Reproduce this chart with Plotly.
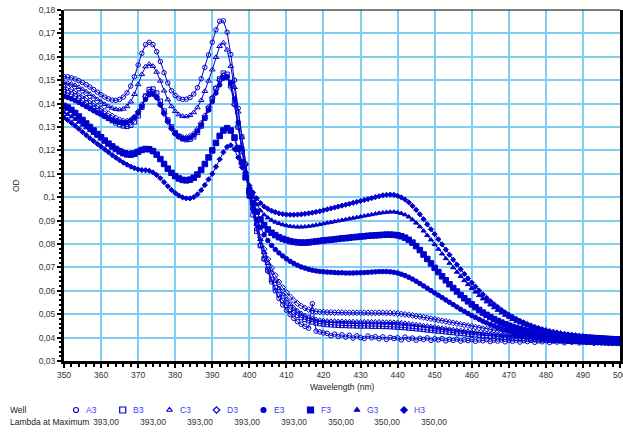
import plotly.graph_objects as go

WAVELENGTH = list(range(350, 501))

A3 = [.1515,.1514,.1510,.1505,.1498,.1490,.1481,.1471,.1460,.1449,
      .1438,.1428,.1420,.1415,.1414,.1418,.1428,.1446,.1475,.1515,
      .1565,.1615,.1652,.1662,.1652,.1622,.1580,.1532,.1488,.1455,
      .1435,.1423,.1418,.1419,.1426,.1441,.1468,.1506,.1555,.1608,
      .1662,.1715,.1752,.1754,.1705,.1610,.1500,.1380,.1260,.1140,
      .1035,
      .0945,.0865,.0795,.0735,.0683,.0638,.0600,.0567,.0540,.0517,
      .0498,.0482,.0468,.0457,.0448,.0440,.0545,.0428,.0424,.0420,
      .0418,.0408,.0415,.0405,.0412,.0402,.0410,.0398,.0408,.0400,
      .0396,.0407,.0399,.0404,.0395,.0403,.0392,.0401,.0396,.0399,
      .0390,.0402,.0393,.0398,.0389,.0397,.0392,.0399,.0388,.0395,
      .0390,.0396,.0386,.0393,.0388,.0394,.0385,.0391,.0387,.0392,
      .0384,.0390,.0386,.0391,.0383,.0389,.0385,.0390,.0382,.0388,
      .0384,.0389,.0381,.0387,.0383,.0388,.0380,.0386,.0382,.0387,
      .0379,.0385,.0381,.0386,.0378,.0384,.0380,.0385,.0377,.0383,
      .0379,.0384,.0376,.0382,.0378,.0383,.0375,.0381,.0377,.0380]

B3 = [.1450,.1446,.1440,.1432,.1423,.1413,.1402,.1391,.1380,.1369,
      .1358,.1347,.1337,.1327,.1318,.1310,.1305,.1303,.1308,.1322,
      .1348,.1385,.1432,.1460,.1462,.1445,.1410,.1368,.1330,.1300,
      .1276,.1260,.1250,.1246,.1248,.1258,.1277,.1304,.1338,.1377,
      .1420,.1465,.1505,.1530,.1525,.1480,.1400,.1300,.1195,.1095,
      .1005,
      .0925,.0855,.0793,.0738,.0690,.0649,.0614,.0584,.0559,.0538,
      .0521,.0507,.0495,.0486,.0478,.0472,.0467,.0463,.0460,.0458,
      .0456,.0455,.0454,.0453,.0452,.0452,.0451,.0451,.0450,.0450,
      .0450,.0450,.0449,.0449,.0449,.0448,.0448,.0447,.0446,.0445,
      .0444,.0443,.0441,.0440,.0438,.0437,.0435,.0433,.0432,.0430,
      .0428,.0427,.0425,.0423,.0422,.0420,.0418,.0417,.0415,.0414,
      .0412,.0411,.0409,.0408,.0406,.0405,.0404,.0402,.0401,.0400,
      .0399,.0398,.0397,.0396,.0395,.0394,.0393,.0392,.0391,.0390,
      .0389,.0388,.0388,.0387,.0386,.0386,.0385,.0384,.0384,.0383,
      .0383,.0382,.0382,.0381,.0381,.0380,.0380,.0380,.0379,.0379]

C3 = [.1490,.1488,.1484,.1478,.1470,.1461,.1451,.1440,.1429,.1418,
      .1407,.1397,.1388,.1381,.1376,.1374,.1377,.1388,.1408,.1440,
      .1482,.1525,.1558,.1568,.1560,.1535,.1497,.1455,.1417,.1388,
      .1367,.1353,.1346,.1345,.1350,.1362,.1383,.1414,.1453,.1497,
      .1545,.1598,.1645,.1660,.1630,.1560,.1470,.1365,.1255,.1145,
      .1045,
      .0960,.0885,.0820,.0765,.0718,.0677,.0641,.0610,.0584,.0562,
      .0543,.0527,.0514,.0503,.0494,.0487,.0481,.0477,.0474,.0472,
      .0471,.0470,.0470,.0469,.0469,.0468,.0468,.0468,.0467,.0467,
      .0467,.0467,.0467,.0467,.0467,.0466,.0466,.0466,.0465,.0464,
      .0463,.0461,.0459,.0457,.0455,.0453,.0451,.0449,.0447,.0445,
      .0442,.0440,.0438,.0436,.0434,.0432,.0430,.0428,.0426,.0424,
      .0422,.0420,.0418,.0416,.0415,.0413,.0411,.0410,.0408,.0407,
      .0405,.0404,.0403,.0401,.0400,.0399,.0398,.0397,.0396,.0395,
      .0394,.0393,.0392,.0391,.0390,.0390,.0389,.0388,.0387,.0387,
      .0386,.0385,.0385,.0384,.0384,.0383,.0383,.0382,.0382,.0381]

D3 = [.1472,.1468,.1461,.1453,.1444,.1434,.1423,.1412,.1400,.1389,
      .1378,.1367,.1357,.1347,.1338,.1331,.1326,.1325,.1330,.1343,
      .1365,.1395,.1430,.1450,.1448,.1428,.1395,.1357,.1322,.1293,
      .1272,.1260,.1255,.1255,.1260,.1271,.1290,.1316,.1348,.1385,
      .1425,.1465,.1500,.1520,.1512,.1470,.1395,.1300,.1200,.1105,
      .1020,
      .0950,.0885,.0828,.0778,.0735,.0698,.0666,.0638,.0614,.0593,
      .0575,.0559,.0546,.0535,.0526,.0520,.0515,.0512,.0510,.0509,
      .0508,.0508,.0507,.0507,.0507,.0506,.0506,.0506,.0506,.0506,
      .0506,.0506,.0506,.0506,.0506,.0506,.0505,.0505,.0504,.0503,
      .0501,.0499,.0497,.0495,.0492,.0490,.0487,.0484,.0481,.0478,
      .0475,.0472,.0469,.0466,.0463,.0460,.0457,.0454,.0451,.0448,
      .0445,.0442,.0439,.0436,.0433,.0431,.0428,.0426,.0424,.0422,
      .0420,.0418,.0416,.0414,.0412,.0411,.0409,.0408,.0406,.0405,
      .0404,.0403,.0401,.0400,.0399,.0398,.0397,.0396,.0395,.0394,
      .0393,.0393,.0392,.0391,.0391,.0390,.0389,.0389,.0388,.0388]

E3 = [.1430,.1426,.1420,.1413,.1405,.1396,.1387,.1378,.1369,.1361,
      .1353,.1345,.1337,.1330,.1324,.1320,.1318,.1320,.1327,.1340,
      .1360,.1388,.1418,.1438,.1440,.1425,.1395,.1360,.1325,.1295,
      .1272,.1258,.1251,.1250,.1254,.1265,.1283,.1308,.1338,.1372,
      .1408,.1445,.1480,.1508,.1515,.1490,.1420,.1320,.1210,.1100,
      .1005,
      .0950,.0905,.0870,.0840,.0815,.0794,.0777,.0762,.0749,.0737,
      .0726,.0717,.0709,.0702,.0697,.0692,.0688,.0685,.0683,.0681,
      .0680,.0679,.0678,.0677,.0677,.0676,.0676,.0676,.0677,.0677,
      .0678,.0679,.0680,.0681,.0682,.0682,.0682,.0681,.0679,.0676,
      .0671,.0665,.0658,.0650,.0641,.0631,.0621,.0611,.0601,.0591,
      .0581,.0571,.0561,.0551,.0541,.0531,.0521,.0512,.0503,.0494,
      .0486,.0478,.0470,.0463,.0456,.0450,.0444,.0438,.0433,.0428,
      .0423,.0419,.0415,.0411,.0408,.0405,.0402,.0399,.0397,.0395,
      .0393,.0391,.0389,.0388,.0386,.0385,.0384,.0383,.0382,.0381,
      .0380,.0379,.0378,.0378,.0377,.0376,.0376,.0375,.0375,.0374]

F3 = [.1390,.1383,.1373,.1360,.1345,.1330,.1315,.1300,.1285,.1270,
      .1256,.1242,.1229,.1217,.1206,.1196,.1188,.1183,.1182,.1186,
      .1194,.1202,.1206,.1205,.1197,.1182,.1163,.1142,.1122,.1104,
      .1090,.1080,.1074,.1072,.1075,.1083,.1097,.1117,.1142,.1170,
      .1200,.1232,.1262,.1285,.1295,.1285,.1255,.1210,.1150,.1085,
      .1025,
      .0975,.0938,.0905,.0880,.0862,.0848,.0838,.0829,.0822,.0817,
      .0812,.0809,.0807,.0806,.0806,.0807,.0809,.0811,.0813,.0815,
      .0817,.0818,.0820,.0822,.0824,.0825,.0827,.0829,.0830,.0832,
      .0833,.0835,.0836,.0837,.0838,.0839,.0840,.0840,.0839,.0837,
      .0833,.0827,.0818,.0806,.0791,.0774,.0755,.0736,.0717,.0698,
      .0680,.0662,.0645,.0628,.0612,.0597,.0582,.0568,.0555,.0542,
      .0530,.0518,.0507,.0497,.0488,.0479,.0471,.0464,.0457,.0451,
      .0446,.0441,.0436,.0432,.0428,.0425,.0422,.0419,.0417,.0415,
      .0413,.0411,.0410,.0408,.0407,.0406,.0404,.0403,.0402,.0401,
      .0400,.0399,.0398,.0397,.0396,.0395,.0394,.0393,.0393,.0392]

G3 = [.1362,.1354,.1344,.1333,.1321,.1309,.1297,.1285,.1273,.1261,
      .1250,.1239,.1229,.1219,.1210,.1202,.1196,.1192,.1191,.1193,
      .1198,.1203,.1206,.1204,.1196,.1181,.1162,.1141,.1121,.1103,
      .1089,.1079,.1073,.1071,.1074,.1082,.1096,.1116,.1141,.1169,
      .1199,.1230,.1260,.1282,.1290,.1280,.1248,.1200,.1145,.1090,
      .1040,
      .1000,.0968,.0943,.0925,.0912,.0902,.0894,.0888,.0883,.0879,
      .0876,.0874,.0873,.0873,.0874,.0876,.0878,.0881,.0884,.0887,
      .0890,.0893,.0896,.0899,.0902,.0905,.0908,.0911,.0914,.0917,
      .0920,.0923,.0926,.0929,.0932,.0934,.0936,.0937,.0937,.0935,
      .0931,.0925,.0916,.0904,.0890,.0874,.0856,.0837,.0818,.0798,
      .0778,.0758,.0738,.0718,.0699,.0680,.0662,.0644,.0627,.0611,
      .0595,.0580,.0566,.0553,.0540,.0528,.0517,.0506,.0496,.0487,
      .0478,.0470,.0463,.0456,.0450,.0445,.0440,.0435,.0431,.0427,
      .0424,.0421,.0418,.0415,.0413,.0411,.0409,.0407,.0405,.0404,
      .0402,.0401,.0400,.0399,.0398,.0397,.0396,.0395,.0394,.0394]

H3 = [.1340,.1330,.1318,.1305,.1292,.1278,.1265,.1252,.1240,.1228,
      .1216,.1204,.1192,.1180,.1169,.1158,.1148,.1139,.1131,.1124,
      .1119,.1116,.1115,.1113,.1106,.1095,.1081,.1064,.1047,.1031,
      .1018,.1007,.0999,.0995,.0995,.1000,.1012,.1030,.1052,.1076,
      .1100,.1130,.1162,.1192,.1215,.1222,.1205,.1170,.1128,.1085,
      .1050,
      .1020,.0995,.0975,.0960,.0950,.0942,.0936,.0931,.0928,.0926,
      .0925,.0925,.0926,.0927,.0929,.0931,.0934,.0937,.0940,.0944,
      .0948,.0952,.0956,.0960,.0964,.0968,.0972,.0976,.0980,.0984,
      .0988,.0992,.0996,.1000,.1004,.1008,.1010,.1011,.1010,.1006,
      .0999,.0990,.0978,.0963,.0946,.0927,.0906,.0884,.0863,.0842,
      .0820,.0798,.0776,.0754,.0733,.0712,.0692,.0672,.0653,.0635,
      .0618,.0601,.0585,.0570,.0556,.0543,.0531,.0519,.0508,.0498,
      .0489,.0480,.0472,.0465,.0458,.0452,.0446,.0441,.0436,.0432,
      .0428,.0425,.0422,.0419,.0416,.0414,.0412,.0410,.0408,.0406,
      .0404,.0403,.0401,.0400,.0399,.0398,.0397,.0396,.0395,.0395]

WELLS = ["A3", "B3", "C3", "D3", "E3", "F3", "G3", "H3"]
SERIES = [A3, B3, C3, D3, E3, F3, G3, H3]
LAMBDA_MAX = ["393,00", "393,00", "393,00", "393,00", "393,00", "350,00", "350,00", "350,00"]
SYMBOLS = ["circle-open", "square-open", "triangle-up-open", "diamond-open",
           "circle", "square", "triangle-up", "diamond"]
MSIZES = [4.5, 4.5, 5, 4.5, 4.5, 5.5, 4.5, 4]

X_TICKS = list(range(350, 501, 10))
X_TICKTEXT = [str(v) for v in X_TICKS]
Y_TICKS = [0.03, 0.04, 0.05, 0.06, 0.07, 0.08, 0.09, 0.10, 0.11, 0.12, 0.13, 0.14, 0.15, 0.16, 0.17, 0.18]
Y_TICKTEXT = ["0,03", "0,04", "0,05", "0,06", "0,07", "0,08", "0,09", "0,1",
              "0,11", "0,12", "0,13", "0,14", "0,15", "0,16", "0,17", "0,18"]

for s in SERIES:
    assert len(s) == len(WAVELENGTH), len(s)

W, H = 623, 433
L, R, T, B = 64, 620, 10, 361
BLUE = "#0000CD"
GRID = "#80CFF0"
FONT = "Liberation Sans, Arial, sans-serif"
TXT = "#333333"

fig = go.Figure()
for name, ys, sym, ms in zip(WELLS, SERIES, SYMBOLS, MSIZES):
    fig.add_trace(go.Scatter(
        x=WAVELENGTH, y=ys, mode="lines+markers", name=name,
        line=dict(color=BLUE, width=1),
        marker=dict(symbol=sym, size=ms, color=BLUE, line=dict(color=BLUE, width=1)),
        xaxis="x", yaxis="y", showlegend=False, cliponaxis=True))

# legend table row markers (pixel coordinate overlay axis)
LEG_X = [76, 122.7, 169.5, 216.5, 263.5, 310.5, 357, 404]
LEG_Y = 410
for i, (name, sym) in enumerate(zip(WELLS, SYMBOLS)):
    fig.add_trace(go.Scatter(
        x=[LEG_X[i]], y=[LEG_Y], mode="markers",
        marker=dict(symbol=sym, size=6 if "square" in sym else 5, color=BLUE,
                    line=dict(color=BLUE, width=1.2)),
        xaxis="x2", yaxis="y2", showlegend=False, hoverinfo="skip"))

annotations = []
annotations.append(dict(x=8, y=LEG_Y, xref="x2", yref="y2", text="Well", showarrow=False,
                        xanchor="left", yanchor="middle", font=dict(family=FONT, size=8.5, color="#222")))
annotations.append(dict(x=8, y=421.5, xref="x2", yref="y2", text="Lambda at Maximum", showarrow=False,
                        xanchor="left", yanchor="middle", font=dict(family=FONT, size=8.5, color="#222")))
for i, name in enumerate(WELLS):
    annotations.append(dict(x=LEG_X[i] + 8, y=LEG_Y, xref="x2", yref="y2", text=name, showarrow=False,
                            xanchor="left", yanchor="middle", font=dict(family=FONT, size=8.5, color="#3a3aff")))
    annotations.append(dict(x=LEG_X[i] + 45, y=421.5, xref="x2", yref="y2", text=LAMBDA_MAX[i], showarrow=False,
                            xanchor="right", yanchor="middle", font=dict(family=FONT, size=8.5, color="#333")))
annotations.append(dict(x=342, y=387, xref="x2", yref="y2", text="Wavelength (nm)", showarrow=False,
                        xanchor="center", yanchor="middle", font=dict(family=FONT, size=8.5, color="#222")))
annotations.append(dict(x=16, y=186, xref="x2", yref="y2", text="OD", showarrow=False, textangle=-90,
                        xanchor="center", yanchor="middle", font=dict(family=FONT, size=8.5, color="#222")))

fig.update_layout(
    width=W, height=H, template="none",
    margin=dict(l=0, r=0, t=0, b=0, pad=0),
    paper_bgcolor="white", plot_bgcolor="rgba(0,0,0,0)",
    showlegend=False,
    xaxis=dict(domain=[L / W, R / W], range=[350, 500], anchor="y",
               tickvals=X_TICKS, ticktext=X_TICKTEXT, ticklabeloverflow="allow",
               showgrid=True, gridcolor=GRID, gridwidth=2, zeroline=False,
               showline=True, linecolor="black", linewidth=3,
               ticks="outside", ticklen=4, tickwidth=1.5, tickcolor="black",
               minor=dict(dtick=2, ticks="outside", ticklen=2.5, tickwidth=1.5, tickcolor="black", showgrid=False),
               tickfont=dict(family=FONT, size=8.5, color=TXT), automargin=False),
    yaxis=dict(domain=[(H - B) / H, (H - T) / H], range=[0.03, 0.18], anchor="x",
               tickvals=Y_TICKS, ticktext=Y_TICKTEXT, ticklabeloverflow="allow",
               showgrid=True, gridcolor=GRID, gridwidth=2, zeroline=False,
               showline=True, linecolor="black", linewidth=3, mirror=True,
               ticks="outside", ticklen=4, tickwidth=1.5, tickcolor="black",
               minor=dict(dtick=0.002, ticks="outside", ticklen=2.5, tickwidth=1.5, tickcolor="black", showgrid=False),
               tickfont=dict(family=FONT, size=8.5, color=TXT), automargin=False),
    xaxis2=dict(domain=[0, 1], range=[0, W], visible=False, anchor="y2", fixedrange=True),
    yaxis2=dict(domain=[0, 1], range=[H, 0], visible=False, anchor="x2", fixedrange=True),
    annotations=annotations,
    shapes=[dict(type="line", xref="paper", yref="paper", x0=L / W, x1=R / W,
                 y0=(H - T) / H, y1=(H - T) / H, line=dict(color="black", width=1.2))],
)

fig.write_html("out.html")
